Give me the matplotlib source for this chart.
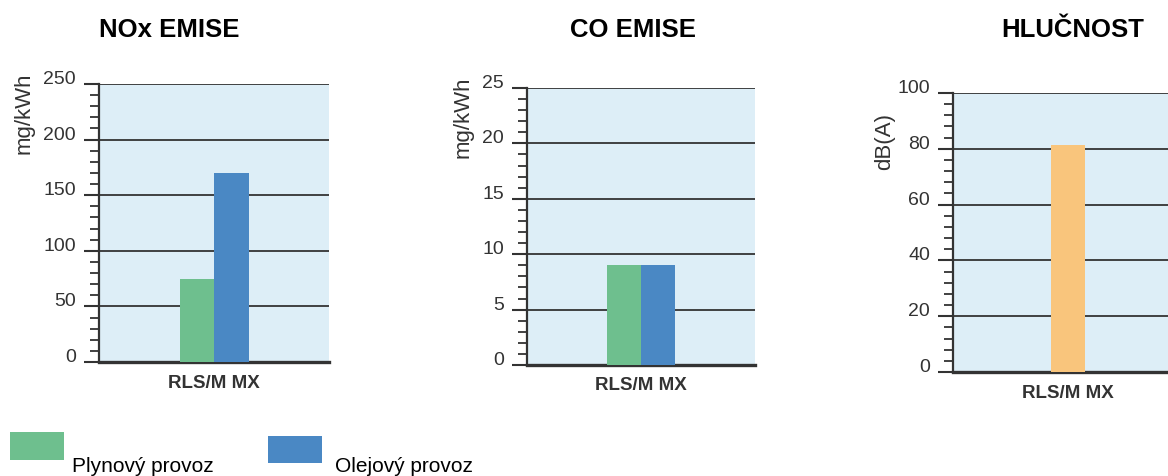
import numpy as np
import matplotlib
matplotlib.use("Agg")
import matplotlib.pyplot as plt
from matplotlib.patches import Rectangle
from matplotlib.ticker import MultipleLocator

plt.rcParams["font.family"] = ["Liberation Sans", "DejaVu Sans"]

# data
model = "RLS/M MX"
series = ["Plynový provoz", "Olejový provoz"]
nox_vals = [75, 170]      # mg/kWh
co_vals = [9, 9]          # mg/kWh
noise_vals = [81.5]       # dB(A)

COL = {"gas": "#6ebf8e", "oil": "#4a88c4", "noise": "#f9c57c",
       "bg": "#ddeef7", "ink": "#333333"}

W, H = 1168, 476
fig = plt.figure(figsize=(W / 100, H / 100), dpi=100)


def px_axes(left, right, top, bottom):
    return fig.add_axes([left / W, 1 - bottom / H, (right - left) / W, (bottom - top) / H])


def style(ax, ymax, major, minor):
    ax.set_facecolor(COL["bg"])
    ax.set_xlim(-1, 1)
    ax.set_ylim(0, ymax)
    ax.yaxis.set_major_locator(MultipleLocator(major))
    ax.yaxis.set_minor_locator(MultipleLocator(minor))
    ax.set_axisbelow(True)
    ax.grid(axis="y", color=COL["ink"], linewidth=1.3)
    for s in ("top", "right"):
        ax.spines[s].set_visible(False)
    ax.spines["left"].set_color(COL["ink"]); ax.spines["left"].set_linewidth(1.6)
    ax.spines["bottom"].set_color(COL["ink"]); ax.spines["bottom"].set_linewidth(2.4)
    ax.tick_params(axis="y", which="major", direction="out", length=10.5, width=1.5,
                   color=COL["ink"], labelcolor=COL["ink"], labelsize=14, pad=6)
    ax.tick_params(axis="y", which="minor", direction="out", length=6.5, width=1.3,
                   color=COL["ink"])
    ax.set_xticks([0])
    ax.set_xticklabels([model], fontweight="bold", fontsize=13.5, color=COL["ink"])
    ax.tick_params(axis="x", length=0, pad=9)
    plt.setp(ax.get_yticklabels(), va="baseline")


def ylabel(x, ytop, text):
    fig.text(x / W, 1 - ytop / H, text, rotation=90, ha="center", va="top",
             fontsize=16, color=COL["ink"])


bw = 0.3

# NOx
ax1 = px_axes(99, 329, 84, 362)
style(ax1, 250, 50, 10)
ax1.bar([-bw / 2], [nox_vals[0]], bw, color=COL["gas"], zorder=3)
ax1.bar([bw / 2], [nox_vals[1]], bw, color=COL["oil"], zorder=3)
ylabel(24, 72, "mg/kWh")

# CO
ax2 = px_axes(527, 755, 88, 365)
style(ax2, 25, 5, 1)
ax2.bar([-bw / 2], [co_vals[0]], bw, color=COL["gas"], zorder=3)
ax2.bar([bw / 2], [co_vals[1]], bw, color=COL["oil"], zorder=3)
ylabel(463, 76, "mg/kWh")

# noise
ax3 = px_axes(953, 1183, 93, 372)
style(ax3, 100, 20, 4)
ax3.bar([0], noise_vals, bw, color=COL["noise"], zorder=3)
ylabel(885, 113, "dB(A)")

# titles
for cx, t in [(169, "NOx EMISE"), (633, "CO EMISE"), (1073, "HLUČNOST")]:
    fig.text(cx / W, 1 - 30 / H, t, ha="center", va="center",
             fontsize=18.5, fontweight="bold", color="black")

# legend
for (x0, y0, x1, y1), tx, c, lab in [((10, 432, 64, 460), 72, COL["gas"], series[0]),
                                     ((268, 436, 322, 463), 335, COL["oil"], series[1])]:
    fig.add_artist(Rectangle((x0 / W, 1 - y1 / H), (x1 - x0) / W, (y1 - y0) / H,
                             transform=fig.transFigure, facecolor=c, edgecolor="none"))
    fig.text(tx / W, 1 - 472 / H, lab, ha="left", va="baseline", fontsize=15, color="black")

fig.savefig("out.png", dpi=100)
